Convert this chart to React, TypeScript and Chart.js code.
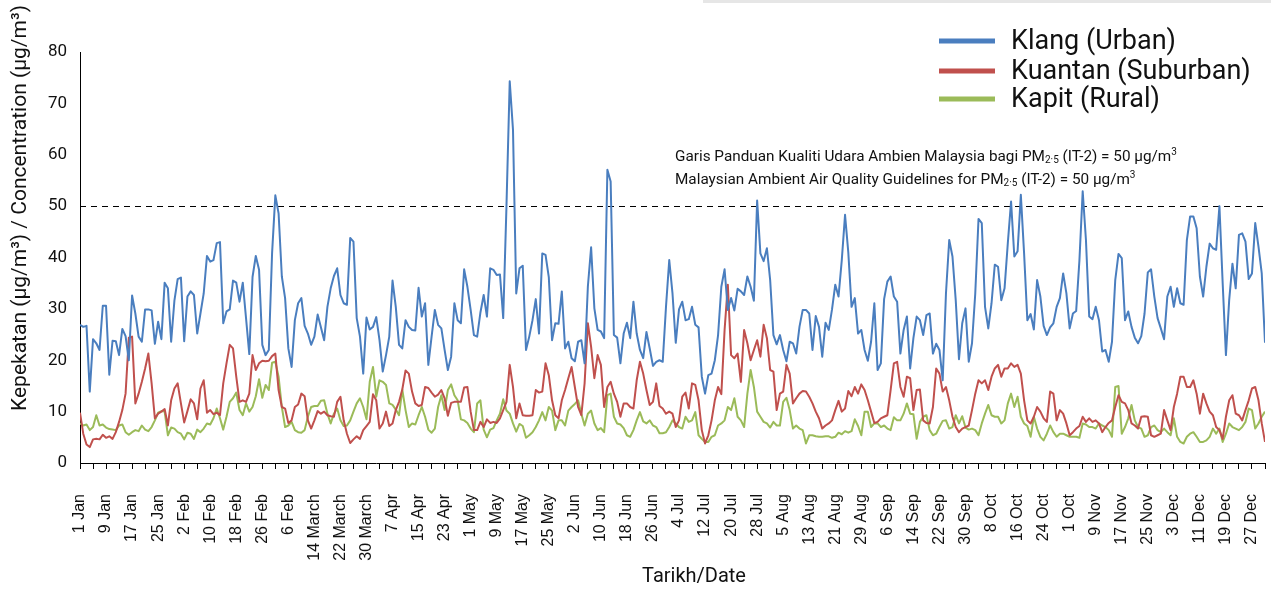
import React, { useEffect, useRef } from 'react';
import { Chart, registerables } from 'chart.js';

Chart.register(...registerables);

// Tick labels, one every 8 days (as printed in the source chart)
const TICK_LABELS = [
  '1 Jan', '9 Jan', '17 Jan', '25 Jan', '2 Feb', '10 Feb', '18 Feb', '26 Feb', '6 Feb',
  '14 March', '22 March', '30 March', '7 Apr', '15 Apr', '23 Apr', '1 May', '9 May',
  '17 May', '25 May', '2 Jun', '10 Jun', '18 Jun', '26 Jun', '4 Jul', '12 Jul', '20 Jul',
  '28 Jul', '5 Aug', '13 Aug', '21 Aug', '29 Aug', '6 Sep', '14 Sep', '22 Sep', '30 Sep',
  '8 Oct', '16 Oct', '24 Oct', '1 Oct', '9 Nov', '17 Nov', '25 Nov', '3 Dec', '11 Dec',
  '19 Dec', '27 Dec',
];
const LABEL_EVERY = 8;
const TICK_EVERY = 4;

// Daily PM2.5 (µg/m³)
const KLANG = [
  26.9, 26.5, 26.7, 13.9, 24.1, 23.3, 22.0, 30.6, 30.6, 17.2,
  23.8, 23.7, 21.0, 26.1, 24.7, 20.0, 32.6, 29.1, 24.6, 23.6,
  29.9, 29.9, 29.7, 23.2, 27.5, 24.1, 35.1, 34.0, 23.6, 31.6,
  35.8, 36.1, 23.7, 32.4, 33.4, 32.7, 25.2, 29.1, 33.0, 40.3,
  39.2, 39.5, 42.8, 43.0, 27.2, 29.5, 29.9, 35.5, 35.1, 31.4,
  35.1, 28.2, 21.2, 36.2, 40.3, 37.6, 23.0, 21.0, 22.0, 40.8,
  52.1, 48.6, 36.3, 32.1, 22.3, 18.7, 27.8, 31.1, 32.1, 26.7,
  25.2, 23.0, 24.6, 28.9, 26.4, 23.9, 30.4, 34.0, 36.4, 37.9,
  32.7, 31.1, 30.8, 43.8, 43.1, 28.2, 24.6, 17.4, 28.3, 26.0,
  26.5, 28.4, 23.9, 17.8, 21.0, 24.6, 35.5, 30.4, 23.0, 22.3,
  27.8, 26.5, 25.9, 25.8, 34.1, 28.5, 31.1, 19.1, 24.6, 29.8,
  26.9, 26.2, 22.0, 18.1, 20.7, 31.1, 27.8, 27.2, 37.7, 34.3,
  29.8, 24.9, 24.6, 29.3, 32.7, 28.5, 37.9, 37.6, 36.6, 36.7,
  28.2, 50.0, 74.3, 64.9, 33.0, 37.9, 38.4, 22.0, 24.6, 27.8,
  31.9, 25.2, 40.8, 40.5, 36.2, 23.9, 27.2, 27.1, 33.4, 22.3,
  23.6, 20.4, 19.8, 23.6, 23.9, 19.4, 34.3, 42.0, 30.1, 25.9,
  25.6, 24.3, 57.1, 54.8, 24.9, 24.4, 19.4, 25.2, 27.3, 24.3,
  31.4, 25.2, 22.0, 20.4, 25.5, 22.3, 18.9, 19.7, 20.0, 19.7,
  30.4, 39.5, 33.0, 23.4, 29.9, 31.4, 27.8, 28.0, 30.4, 26.9,
  26.4, 16.8, 13.5, 17.1, 17.4, 20.0, 24.9, 34.3, 37.7, 29.8,
  32.1, 29.7, 33.9, 33.4, 32.7, 36.3, 34.3, 31.6, 51.1, 40.8,
  39.3, 41.8, 35.6, 24.9, 23.1, 24.9, 22.0, 19.8, 23.6, 23.3,
  21.3, 26.5, 29.8, 29.8, 29.1, 22.0, 28.6, 26.5, 20.7, 27.3,
  25.9, 29.9, 34.7, 32.4, 39.5, 48.3, 41.0, 30.4, 32.1, 25.2,
  25.9, 22.0, 19.9, 23.6, 31.1, 18.1, 19.4, 31.9, 35.3, 36.3,
  32.4, 31.4, 21.3, 25.9, 28.5, 18.4, 24.3, 28.5, 27.8, 24.9,
  28.8, 29.1, 21.3, 23.2, 22.0, 16.1, 33.0, 43.4, 40.2, 31.7,
  20.2, 27.2, 30.1, 19.7, 23.3, 33.0, 47.5, 46.7, 30.4, 26.2,
  31.1, 38.6, 38.2, 31.7, 34.0, 42.8, 50.9, 40.2, 41.2, 52.2,
  40.8, 27.8, 29.0, 26.0, 35.6, 32.4, 26.7, 24.9, 26.4, 27.2,
  30.4, 32.1, 36.9, 33.0, 26.2, 29.1, 29.6, 39.5, 52.9, 43.4,
  28.5, 28.0, 30.4, 27.8, 21.7, 22.0, 19.7, 23.6, 35.6, 40.7,
  39.9, 27.8, 29.5, 26.5, 24.4, 23.3, 24.7, 29.1, 37.1, 37.7,
  32.4, 28.2, 26.2, 24.1, 32.4, 34.3, 30.4, 34.0, 31.1, 30.8,
  43.4, 48.0, 48.0, 45.7, 36.3, 32.4, 38.2, 42.7, 41.8, 41.5,
  50.0, 35.0, 21.0, 31.7, 38.8, 34.0, 44.4, 44.7, 43.1, 35.8,
  36.9, 46.7, 42.1, 36.9, 23.4,
];

const KUANTAN = [
  9.8, 5.7, 3.6, 3.1, 4.6, 4.7, 4.6, 5.5, 4.9, 5.2,
  4.7, 6.0, 8.0, 10.3, 13.5, 24.4, 24.6, 11.6, 13.5, 15.8,
  18.4, 21.3, 15.5, 8.7, 9.6, 10.0, 10.5, 7.3, 12.2, 14.5,
  15.5, 11.6, 7.9, 10.1, 12.4, 11.6, 8.5, 14.5, 16.1, 9.8,
  10.3, 9.5, 9.8, 9.3, 15.5, 19.4, 23.0, 22.3, 16.8, 11.9,
  12.2, 11.9, 13.5, 21.0, 18.1, 19.4, 19.9, 19.8, 19.9, 20.8,
  21.3, 14.2, 10.9, 10.6, 7.8, 8.3, 10.9, 11.4, 13.5, 13.0,
  8.3, 6.7, 8.3, 10.1, 9.6, 10.0, 9.3, 9.1, 9.0, 11.9,
  12.9, 8.3, 5.7, 3.9, 4.6, 5.2, 4.7, 6.4, 7.2, 8.0,
  13.4, 12.2, 6.7, 7.7, 10.0, 7.2, 7.7, 10.3, 11.9, 14.3,
  18.0, 17.4, 13.9, 11.6, 11.1, 11.3, 14.8, 14.6, 13.7, 12.9,
  13.3, 14.2, 12.6, 9.2, 11.7, 11.9, 11.9, 11.9, 14.7, 14.8,
  10.0, 6.4, 6.4, 8.0, 7.0, 8.5, 7.8, 8.0, 7.8, 8.7,
  10.3, 11.9, 19.1, 14.8, 8.7, 11.6, 9.3, 9.2, 9.2, 9.3,
  14.2, 13.7, 13.9, 19.4, 17.1, 12.2, 9.3, 8.7, 12.2, 14.2,
  16.5, 18.7, 14.8, 10.9, 9.3, 15.5, 27.2, 22.6, 16.5, 21.0,
  19.1, 10.9, 14.8, 15.8, 13.5, 11.9, 9.0, 11.6, 11.6, 10.9,
  10.6, 16.1, 19.7, 17.4, 14.2, 11.3, 11.9, 15.5, 11.1, 10.6,
  9.6, 10.0, 9.6, 7.0, 8.3, 12.9, 13.7, 10.6, 15.5, 15.2,
  12.2, 6.4, 3.8, 5.4, 8.3, 12.2, 14.8, 13.4, 25.9, 34.7,
  21.0, 20.4, 21.3, 15.8, 25.9, 23.3, 20.0, 22.0, 23.9, 20.7,
  26.9, 24.3, 18.1, 17.8, 10.3, 13.5, 13.9, 19.1, 17.4, 11.6,
  12.6, 13.5, 14.0, 13.9, 12.9, 11.6, 10.0, 8.7, 6.7, 7.3,
  7.7, 8.3, 10.3, 12.1, 10.0, 10.6, 14.0, 13.0, 14.8, 13.5,
  15.3, 14.2, 12.2, 10.0, 7.8, 8.0, 8.7, 9.0, 9.3, 14.2,
  19.4, 19.7, 14.8, 12.9, 16.8, 16.5, 10.3, 14.2, 14.3, 8.3,
  7.8, 7.7, 10.9, 18.4, 17.4, 13.9, 14.8, 12.2, 9.0, 7.0,
  6.0, 6.7, 7.0, 7.3, 10.3, 13.5, 16.1, 15.5, 16.1, 14.2,
  16.8, 18.4, 19.1, 16.8, 18.4, 18.4, 19.4, 18.7, 19.1, 17.4,
  12.2, 8.3, 7.7, 9.0, 10.9, 10.0, 8.7, 8.0, 13.9, 13.5,
  8.3, 10.3, 9.6, 7.7, 5.4, 6.0, 6.7, 7.2, 9.0, 8.0,
  8.7, 8.0, 8.3, 7.7, 6.0, 7.0, 7.8, 8.3, 10.9, 13.2,
  11.9, 11.6, 10.3, 7.7, 7.3, 6.7, 9.0, 9.1, 9.0, 5.4,
  5.1, 5.4, 5.7, 10.3, 8.3, 6.4, 10.9, 13.5, 16.8, 16.8,
  14.8, 14.8, 16.1, 13.5, 9.6, 13.5, 11.6, 10.0, 9.3, 7.0,
  6.4, 4.7, 9.0, 12.2, 13.2, 9.6, 9.3, 8.3, 10.3, 12.2,
  14.5, 14.8, 12.2, 7.7, 4.1,
];

const KAPIT = [
  7.7, 7.3, 7.5, 6.4, 7.0, 9.3, 7.3, 7.5, 6.9, 6.6,
  6.5, 6.4, 7.3, 7.5, 6.0, 5.5, 6.0, 6.4, 6.2, 7.3,
  6.5, 6.2, 7.0, 8.3, 9.8, 10.1, 10.0, 5.4, 6.9, 6.7,
  6.0, 5.7, 4.6, 5.9, 5.7, 4.7, 6.5, 6.0, 6.7, 7.7,
  7.5, 8.7, 10.6, 8.7, 6.5, 9.0, 11.9, 12.6, 13.7, 10.3,
  9.3, 11.6, 10.0, 10.9, 13.0, 16.3, 12.7, 15.2, 14.2, 19.5,
  19.7, 16.8, 10.9, 7.0, 7.3, 8.0, 6.4, 6.0, 5.9, 6.4,
  9.0, 10.9, 11.1, 11.1, 12.1, 12.2, 9.6, 7.7, 9.6, 10.6,
  8.3, 7.2, 7.3, 8.3, 10.0, 11.6, 12.6, 10.9, 8.5, 15.8,
  18.7, 12.9, 16.1, 15.8, 15.2, 11.6, 11.3, 10.4, 9.3, 14.3,
  10.3, 7.0, 7.7, 7.5, 9.3, 10.9, 9.0, 6.5, 5.9, 6.7,
  10.9, 13.2, 10.3, 14.2, 15.3, 13.2, 12.2, 8.5, 8.3, 7.8,
  6.7, 6.0, 11.6, 12.2, 6.5, 5.0, 6.5, 6.8, 8.3, 9.6,
  12.4, 10.2, 9.6, 7.7, 6.1, 7.6, 7.2, 4.9, 5.4, 6.0,
  7.0, 8.3, 9.9, 8.3, 10.9, 10.2, 6.4, 8.3, 8.3, 7.3,
  10.2, 10.9, 11.5, 12.2, 9.6, 7.3, 9.6, 10.2, 7.7, 6.4,
  6.8, 6.0, 13.2, 13.5, 9.0, 7.7, 7.5, 6.8, 5.4, 5.1,
  6.4, 8.3, 9.9, 8.1, 7.7, 8.3, 7.3, 7.0, 5.8, 5.8,
  6.0, 7.0, 8.3, 7.7, 7.0, 6.7, 9.0, 8.0, 8.3, 9.9,
  5.4, 4.7, 4.1, 4.1, 5.1, 5.4, 7.3, 7.7, 8.3, 10.9,
  10.3, 12.6, 9.0, 8.3, 7.0, 13.5, 18.1, 14.8, 10.0, 9.0,
  8.0, 7.7, 6.9, 8.0, 7.3, 7.3, 11.9, 12.7, 10.3, 6.7,
  7.3, 6.7, 6.4, 3.8, 5.4, 5.4, 5.2, 5.1, 5.1, 5.2,
  5.2, 4.9, 5.1, 5.9, 5.6, 6.2, 5.9, 6.2, 8.5, 7.2,
  5.4, 10.0, 10.0, 7.0, 7.7, 7.7, 7.0, 7.3, 6.7, 6.4,
  8.9, 8.3, 8.3, 9.6, 11.6, 9.6, 9.5, 4.7, 8.0, 9.0,
  9.3, 6.4, 5.4, 5.7, 7.0, 8.2, 8.3, 6.7, 7.0, 9.3,
  7.7, 9.1, 6.9, 6.5, 6.7, 6.4, 5.4, 7.7, 9.6, 11.3,
  9.3, 9.0, 9.0, 7.7, 8.3, 11.6, 13.5, 10.9, 12.9, 9.0,
  7.7, 7.2, 5.1, 9.0, 6.7, 5.1, 4.4, 5.7, 7.3, 6.0,
  5.1, 5.7, 5.7, 5.4, 5.1, 5.1, 5.1, 4.9, 7.7, 7.5,
  7.0, 7.0, 6.7, 7.7, 7.3, 7.0, 6.4, 5.1, 14.8, 15.0,
  5.7, 7.0, 8.7, 11.3, 8.3, 7.0, 6.7, 5.1, 5.4, 7.0,
  7.3, 6.4, 6.0, 6.7, 6.0, 5.4, 8.7, 5.1, 4.1, 3.8,
  5.1, 5.7, 6.0, 5.1, 4.1, 4.1, 4.4, 5.1, 6.7, 5.7,
  6.7, 4.1, 5.7, 7.7, 7.0, 6.7, 6.4, 7.0, 8.0, 10.6,
  10.3, 6.7, 7.7, 9.0, 10.0,
];

const SERIES_NAMES = ['Klang (Urban)', 'Kuantan (Suburban)', 'Kapit (Rural)'];
const SERIES_COLORS = ['#4A7EBF', '#C0504D', '#9BBB59'];
const GUIDELINE = 50;
const Y_MIN = 0;
const Y_MAX = 80;
const Y_STEP = 10;
const Y_TITLE = 'Kepekatan (µg/m³) / Concentration (µg/m³)';
const X_TITLE = 'Tarikh/Date';
type Seg = { t: string; sub?: boolean; sup?: boolean };
const NOTE_LINES: Seg[][] = [
  [
    { t: 'Garis Panduan Kualiti Udara Ambien Malaysia bagi PM' },
    { t: '2·5', sub: true },
    { t: ' (IT-2) = 50 µg/m' },
    { t: '3', sup: true },
  ],
  [
    { t: 'Malaysian Ambient Air Quality Guidelines for PM' },
    { t: '2·5', sub: true },
    { t: ' (IT-2) = 50 µg/m' },
    { t: '3', sup: true },
  ],
];

const FONT_MAIN = 'Roboto, "Noto Sans", sans-serif';
const FONT_TICK = '"Liberation Sans", Arial, sans-serif';

const overlayPlugin = {
  id: 'overlay',
  beforeDatasetsDraw(chart: any) {
    const { ctx, scales } = chart;
    const x = scales.x;
    const y = scales.y;
    const gy = Math.round(y.getPixelForValue(GUIDELINE)) + 0.5;
    ctx.save();
    ctx.strokeStyle = '#000';
    ctx.lineWidth = 1.2;
    ctx.setLineDash([6, 5]);
    ctx.beginPath();
    ctx.moveTo(x.left, gy);
    ctx.lineTo(x.right, gy);
    ctx.stroke();
    ctx.restore();
  },
  afterDraw(chart: any) {
    const { ctx } = chart;
    ctx.save();
    ctx.fillStyle = '#111';
    ctx.textBaseline = 'middle';

    // Legend
    const legendY = [41, 71, 99];
    chart.data.datasets.forEach((ds: any, i: number) => {
      ctx.strokeStyle = ds.borderColor;
      ctx.lineWidth = 5;
      ctx.setLineDash([]);
      ctx.beginPath();
      ctx.moveTo(939, legendY[i]);
      ctx.lineTo(995, legendY[i]);
      ctx.stroke();
      ctx.font = `27px ${FONT_MAIN}`;
      ctx.textAlign = 'left';
      ctx.fillText(ds.label, 1011, legendY[i] + 1);
    });

    // Guideline note
    const noteY = [157, 180];
    NOTE_LINES.forEach((line, li) => {
      let cx = 675;
      line.forEach((seg) => {
        const size = seg.sub || seg.sup ? 10 : 15.3;
        ctx.font = `${size}px ${FONT_MAIN}`;
        const dy = seg.sub ? 3 : seg.sup ? -5 : 0;
        ctx.textAlign = 'left';
        ctx.fillText(seg.t, cx, noteY[li] + dy);
        cx += ctx.measureText(seg.t).width;
      });
    });

    // Y title
    ctx.save();
    ctx.translate(21, 208);
    ctx.rotate(-Math.PI / 2);
    ctx.textAlign = 'center';
    ctx.font = `21px ${FONT_MAIN}`;
    ctx.fillText(Y_TITLE, 0, 0);
    ctx.restore();

    // X title
    ctx.textAlign = 'center';
    ctx.font = `20px ${FONT_MAIN}`;
    ctx.fillText(X_TITLE, 694, 577);
    ctx.restore();
  },
};

export default function App() {
  const canvasRef = useRef<HTMLCanvasElement | null>(null);

  useEffect(() => {
    if (!canvasRef.current) return;
    const seriesValues = [KLANG, KUANTAN, KAPIT];
    const lastDay = KLANG.length - 1;
    const chart = new Chart(canvasRef.current, {
      type: 'line',
      data: {
        datasets: seriesValues.map((vals, i) => ({
          label: SERIES_NAMES[i],
          data: vals.map((v, d) => ({ x: d, y: v })),
          borderColor: SERIES_COLORS[i],
          backgroundColor: SERIES_COLORS[i],
          borderWidth: 2,
          pointRadius: 0,
          tension: 0,
          fill: false,
          borderJoinStyle: 'round' as const,
        })),
      },
      options: {
        animation: false,
        responsive: true,
        maintainAspectRatio: false,
        layout: { padding: { top: 52, right: 0, left: 0, bottom: 0 } },
        plugins: {
          legend: { display: false },
          tooltip: { enabled: false },
        },
        scales: {
          x: {
            type: 'linear',
            min: 0,
            max: lastDay,
            afterFit: (scale: any) => {
              scale.height = 127;
              scale.paddingLeft = 0;
              scale.paddingRight = 6;
            },
            grid: {
              display: true,
              drawOnChartArea: false,
              drawTicks: true,
              tickLength: 6,
              color: '#000',
              tickColor: '#000',
              lineWidth: 1,
            },
            border: { display: true, color: '#000', width: 1 },
            ticks: {
              stepSize: TICK_EVERY,
              autoSkip: false,
              maxRotation: 90,
              minRotation: 90,
              padding: 25,
              color: '#111',
              font: { family: FONT_TICK, size: 16 },
              callback: (v: any) => {
                const n = Number(v);
                return n % LABEL_EVERY === 0 ? TICK_LABELS[n / LABEL_EVERY] ?? '' : '';
              },
            },
          },
          y: {
            min: Y_MIN,
            max: Y_MAX,
            afterFit: (scale: any) => {
              scale.width = 80;
            },
            grid: { display: false, drawTicks: false },
            border: { display: true, color: '#000', width: 1 },
            ticks: {
              stepSize: Y_STEP,
              padding: 13,
              color: '#111',
              font: { family: FONT_MAIN, size: 17 },
            },
          },
        },
      },
      plugins: [overlayPlugin],
    } as any);
    return () => chart.destroy();
  }, []);

  return (
    <div style={{ position: 'fixed', left: 0, top: 0, width: 1271, height: 590, background: '#fff' }}>
      <div style={{ position: 'absolute', left: 703, top: 0, width: 568, height: 3, background: '#e6e6e6' }} />
      <canvas ref={canvasRef} />
    </div>
  );
}
